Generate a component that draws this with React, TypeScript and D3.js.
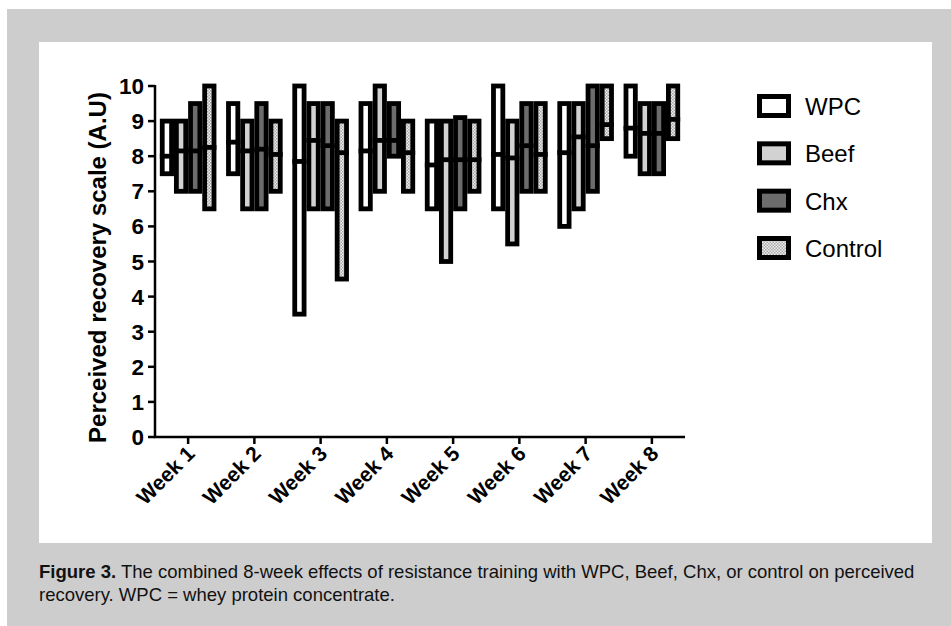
import React from 'react';
import * as d3 from 'd3';

const weeks = ['Week 1', 'Week 2', 'Week 3', 'Week 4', 'Week 5', 'Week 6', 'Week 7', 'Week 8'];
const seriesNames = ['WPC', 'Beef', 'Chx', 'Control'];

// floating bars: min to max, line at median
const wpcMax = [9, 9.5, 10, 9.5, 9, 10, 9.5, 10];
const wpcMin = [7.5, 7.5, 3.5, 6.5, 6.5, 6.5, 6, 8];
const wpcMed = [8, 8.4, 7.85, 8.15, 7.75, 8.05, 8.1, 8.8];

const beefMax = [9, 9, 9.5, 10, 9, 9, 9.5, 9.5];
const beefMin = [7, 6.5, 6.5, 7, 5, 5.5, 6.5, 7.5];
const beefMed = [8.15, 8.15, 8.45, 8.45, 7.9, 7.95, 8.55, 8.65];

const chxMax = [9.5, 9.5, 9.5, 9.5, 9.1, 9.5, 10, 9.5];
const chxMin = [7, 6.5, 6.5, 8, 6.5, 7, 7, 7.5];
const chxMed = [8.15, 8.2, 8.3, 8.45, 7.9, 8.3, 8.3, 8.65];

const ctrlMax = [10, 9, 9, 9, 9, 9.5, 10, 10];
const ctrlMin = [6.5, 7, 4.5, 7, 7, 7, 8.5, 8.5];
const ctrlMed = [8.25, 8.05, 8.1, 8.1, 7.9, 8.05, 8.9, 9.05];

const yTicks = [0, 1, 2, 3, 4, 5, 6, 7, 8, 9, 10];

const fills: Record<string, string> = {
  WPC: '#ffffff',
  Beef: '#d2d2d2',
  Chx: '#6c6c6c',
  Control: 'url(#checker)',
};

export default function App() {
  const W = 951;
  const H = 626;
  const x0 = 155, x1 = 685, yTop = 86, yBottom = 437;
  const sw = 4.8;

  const x = d3.scaleBand().domain(weeks).range([x0, x1]).paddingInner(0.146).paddingOuter(0.073);
  const xs = d3.scaleBand().domain(seriesNames).range([0, x.bandwidth()]);
  const y = d3.scaleLinear().domain([0, 10]).range([yBottom, yTop]);

  const data = [
    { name: 'WPC', max: wpcMax, min: wpcMin, med: wpcMed },
    { name: 'Beef', max: beefMax, min: beefMin, med: beefMed },
    { name: 'Chx', max: chxMax, min: chxMin, med: chxMed },
    { name: 'Control', max: ctrlMax, min: ctrlMin, med: ctrlMed },
  ];

  const bars = data.flatMap(s =>
    weeks.map((w, i) => ({ s: s.name, w, max: s.max[i], min: s.min[i], med: s.med[i] }))
  );

  const bw = xs.bandwidth();
  const legendY = d3.scalePoint().domain(seriesNames).range([106, 248]);

  return (
    <svg width={W} height={H} style={{ position: 'absolute', left: 0, top: 0 }}>
      <defs>
        <pattern id="checker" width="3" height="3" patternUnits="userSpaceOnUse">
          <rect width="3" height="3" fill="#eeeeee" />
          <rect width="1.5" height="1.5" fill="#a8a8a8" />
          <rect x="1.5" y="1.5" width="1.5" height="1.5" fill="#a8a8a8" />
        </pattern>
      </defs>
      <rect x={7} y={9} width={W - 7} height={H - 9} fill="#cdcdcd" />
      <rect x={39} y={42} width={893} height={501} fill="#ffffff" />

      {/* bars */}
      {bars.map(b => (
        <rect
          key={b.s + b.w}
          x={(x(b.w) || 0) + (xs(b.s) || 0) + sw / 2}
          y={y(b.max)}
          width={bw - sw}
          height={y(b.min) - y(b.max)}
          fill={fills[b.s]}
          stroke="#000"
          strokeWidth={sw}
        />
      ))}
      {bars.map(b => (
        <line
          key={'m' + b.s + b.w}
          x1={(x(b.w) || 0) + (xs(b.s) || 0)}
          x2={(x(b.w) || 0) + (xs(b.s) || 0) + bw}
          y1={y(b.med)}
          y2={y(b.med)}
          stroke="#000"
          strokeWidth={sw}
        />
      ))}

      {/* y axis */}
      <line x1={x0} x2={x0} y1={yTop - 1} y2={yBottom + 1} stroke="#000" strokeWidth={2.5} />
      {yTicks.map(t => (
        <g key={t}>
          <line x1={x0 - 7} x2={x0} y1={y(t)} y2={y(t)} stroke="#000" strokeWidth={2.5} />
          <text
            x={x0 - 11}
            y={y(t) + 8}
            textAnchor="end"
            fontFamily="Liberation Sans, Arial, sans-serif"
            fontWeight="bold"
            fontSize={22.5}
          >
            {t}
          </text>
        </g>
      ))}
      <text
        transform={`translate(106,${(yTop + yBottom) / 2 + 6}) rotate(-90)`}
        textAnchor="middle"
        fontFamily="Liberation Sans, Arial, sans-serif"
        fontWeight="bold"
        fontSize={24}
      >
        Perceived recovery scale (A.U)
      </text>

      {/* x axis */}
      <line x1={x0 - 1} x2={x1} y1={yBottom} y2={yBottom} stroke="#000" strokeWidth={2.5} />
      {weeks.map(w => {
        const cx = (x(w) || 0) + x.bandwidth() / 2;
        return (
          <g key={w}>
            <line x1={cx} x2={cx} y1={yBottom} y2={yBottom + 7} stroke="#000" strokeWidth={2.5} />
            <text
              transform={`translate(${cx + 8},${yBottom + 18}) rotate(-45)`}
              textAnchor="end"
              fontFamily="Liberation Sans, Arial, sans-serif"
              fontWeight="bold"
              fontSize={21}
            >
              {w}
            </text>
          </g>
        );
      })}

      {/* legend */}
      {seriesNames.map(n => {
        const ly = legendY(n) || 0;
        return (
          <g key={n}>
            <rect x={759.5} y={ly - 9.5} width={29} height={19} fill={fills[n]} stroke="#000" strokeWidth={5} />
            <text x={805} y={ly + 9} fontFamily="Liberation Sans, Arial, sans-serif" fontSize={24}>
              {n}
            </text>
          </g>
        );
      })}

      {/* caption */}
      <text x={39} y={578} fontFamily="Liberation Sans Narrow, Arial Narrow, sans-serif" fontSize={18.5} fill="#111">
        <tspan fontWeight="bold">Figure 3.</tspan>
        <tspan> The combined 8-week effects of resistance training with WPC, Beef, Chx, or control on perceived</tspan>
      </text>
      <text x={39} y={601} fontFamily="Liberation Sans Narrow, Arial Narrow, sans-serif" fontSize={18.5} fill="#111">
        recovery. WPC = whey protein concentrate.
      </text>
    </svg>
  );
}
